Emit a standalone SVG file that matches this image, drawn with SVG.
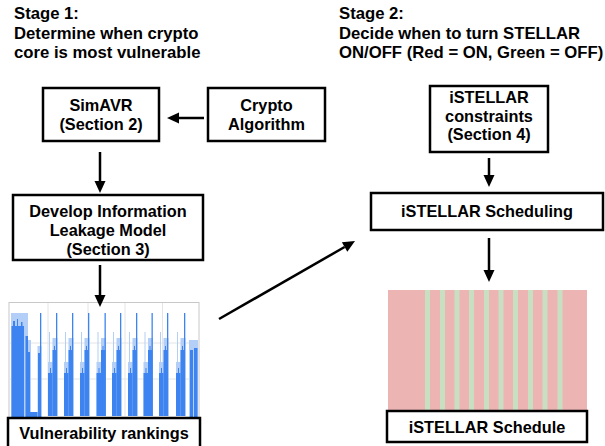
<svg xmlns="http://www.w3.org/2000/svg" width="605" height="446" viewBox="0 0 605 446">
<defs>
<style>
.t{font-family:"Liberation Sans",Arial,Helvetica,sans-serif;font-weight:bold;fill:#000}
.title{font-size:16.7px}
.lbl{font-size:16.3px;text-anchor:middle}
.box{fill:#fff;stroke:#000;stroke-width:2.5}
.edge{stroke:#000;stroke-width:2.5;fill:none;marker-end:url(#ah)}
.dk{fill:#3d84f1}
.lt{fill:#b3cff8}
.grid{stroke:#e4e4e4;stroke-width:1}
.on{fill:#ecb5b4}
.off{fill:#c9dfc2}
</style>
<marker id="ah" markerUnits="userSpaceOnUse" markerWidth="12" markerHeight="11" refX="0" refY="5.5" orient="auto" overflow="visible">
<path d="M0,0 L12,5.5 L0,11 z" fill="#000"/>
</marker>
<g id="cl">
<rect class="lt" x="0" y="362" width="5" height="54"/>
<rect class="lt" x="1" y="332" width="1" height="84"/>
<rect class="lt" x="4.5" y="338" width="5" height="78"/>
<rect class="dk" x="0" y="373" width="4.5" height="43"/>
<rect class="dk" x="2" y="368" width="1" height="48"/>
<rect class="dk" x="4.5" y="350" width="4.5" height="66"/>
<rect class="dk" x="6" y="346" width="1" height="70"/>
<rect class="dk" x="8" y="313" width="1.3" height="103"/>
</g>
</defs>
<rect width="605" height="446" fill="#fff"/>

<g id="stage1-title">
<text class="t title" x="14" y="19">Stage 1:</text>
<text class="t title" x="14" y="38.5">Determine when crypto</text>
<text class="t title" x="14" y="58">core is most vulnerable</text>
</g>
<g id="stage2-title">
<text class="t title" x="339" y="19">Stage 2:</text>
<text class="t title" x="339" y="38.5">Decide when to turn STELLAR</text>
<text class="t title" x="339" y="58">ON/OFF (Red = ON, Green = OFF)</text>
</g>

<g id="simavr">
<rect class="box" x="43" y="88" width="116" height="53"/>
<text class="t lbl" x="101" y="111">SimAVR</text>
<text class="t lbl" x="101" y="130">(Section 2)</text>
</g>
<g id="crypto">
<rect class="box" x="208" y="88" width="117" height="53"/>
<text class="t lbl" x="266.5" y="111">Crypto</text>
<text class="t lbl" x="266.5" y="130">Algorithm</text>
</g>
<g id="leakage">
<rect class="box" x="13" y="195" width="190" height="65"/>
<text class="t lbl" x="108" y="217">Develop Information</text>
<text class="t lbl" x="108" y="236">Leakage Model</text>
<text class="t lbl" x="108" y="255">(Section 3)</text>
</g>

<g id="chart">
<rect x="9" y="302.5" width="190" height="115" fill="#fff" stroke="#c8c8c8" stroke-width="1"/>
<line class="grid" x1="48" y1="303" x2="48" y2="416"/>
<line class="grid" x1="88" y1="303" x2="88" y2="416"/>
<line class="grid" x1="125" y1="303" x2="125" y2="416"/>
<line class="grid" x1="162.5" y1="303" x2="162.5" y2="416"/>
<line class="grid" x1="10" y1="343" x2="198" y2="343"/>
<line class="grid" x1="10" y1="379" x2="198" y2="379"/>
<rect class="lt" x="11" y="313" width="14" height="104"/>
<rect class="dk" x="11.5" y="326" width="12.5" height="91"/>
<rect class="dk" x="13" y="321" width="2" height="96"/>
<rect class="dk" x="17" y="319" width="1" height="98"/>
<rect class="dk" x="21" y="322" width="1.5" height="95"/>
<rect class="lt" x="25" y="313" width="3" height="104"/>
<rect class="dk" x="25.5" y="336" width="2.5" height="81"/>
<rect class="lt" x="28" y="340" width="3" height="77"/>
<rect class="dk" x="28" y="352" width="2" height="65"/>
<rect class="dk" x="30" y="412" width="8" height="5"/>
<rect class="lt" x="37.5" y="346" width="4" height="71"/>
<rect class="dk" x="38" y="353" width="3" height="64"/>
<rect class="dk" x="40" y="313" width="1.3" height="104"/>
<g id="clusters">
<use href="#cl" x="48"/>
<use href="#cl" x="64"/>
<use href="#cl" x="80"/>
<use href="#cl" x="96.5"/>
<use href="#cl" x="112"/>
<use href="#cl" x="128"/>
<use href="#cl" x="143.5"/>
<use href="#cl" x="159"/>
<use href="#cl" x="176"/>
<rect class="lt" x="189" y="340" width="9" height="77"/>
<rect class="dk" x="190" y="350" width="3" height="67"/>
<rect class="dk" x="194" y="348" width="3.5" height="69"/>
</g>
</g>
<g id="vuln-label">
<rect class="box" x="8" y="418" width="192" height="30"/>
<text class="t lbl" x="104" y="439">Vulnerability rankings</text>
</g>

<g id="constraints">
<rect class="box" x="430" y="86" width="118" height="66"/>
<text class="t lbl" x="489" y="103">iSTELLAR</text>
<text class="t lbl" x="489" y="121.5">constraints</text>
<text class="t lbl" x="489" y="140">(Section 4)</text>
</g>
<g id="scheduling">
<rect class="box" x="371" y="193" width="232" height="37"/>
<text class="t lbl" x="487" y="217">iSTELLAR Scheduling</text>
</g>
<g id="schedule-image">
<rect class="on" x="388" y="290" width="199" height="120"/>
<rect class="off" x="425" y="290" width="5" height="120"/>
<rect class="off" x="440" y="290" width="5" height="120"/>
<rect class="off" x="454.5" y="290" width="5" height="120"/>
<rect class="off" x="469" y="290" width="5" height="120"/>
<rect class="off" x="484" y="290" width="5" height="120"/>
<rect class="off" x="498.5" y="290" width="5" height="120"/>
<rect class="off" x="513" y="290" width="5" height="120"/>
<rect class="off" x="528" y="290" width="5" height="120"/>
<rect class="off" x="542.5" y="290" width="5" height="120"/>
<rect class="off" x="557.5" y="290" width="5" height="120"/>
</g>
<g id="schedule-label">
<rect class="box" x="387" y="411" width="200" height="31"/>
<text class="t lbl" x="487" y="433">iSTELLAR Schedule</text>
</g>

<g id="connectors">
<line class="edge" x1="204" y1="118" x2="179" y2="118"/>
<line class="edge" x1="100" y1="152" x2="100" y2="181"/>
<line class="edge" x1="100" y1="265" x2="100" y2="295"/>
<line class="edge" x1="219" y1="319" x2="344.6" y2="247"/>
<line class="edge" x1="489" y1="158" x2="489" y2="175"/>
<line class="edge" x1="489" y1="238" x2="489" y2="270"/>
</g>
</svg>
